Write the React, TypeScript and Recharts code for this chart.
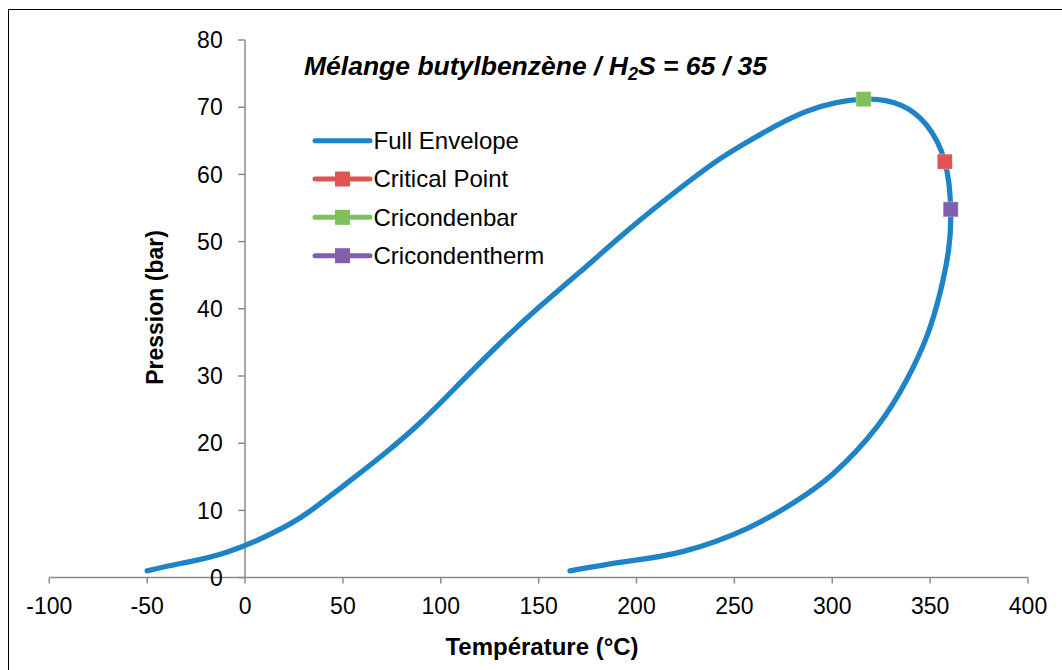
import React from 'react';
import { ComposedChart, Line, Scatter, XAxis, YAxis, ReferenceLine, Legend } from 'recharts';

// ---- data ----
const envelopeT = [-50, -33, -9, 20, 37, 54, 71, 90, 110, 130, 150, 170, 192, 215, 240, 260, 287, 316, 335, 348, 357.5, 360.5, 359.4, 355, 348.3, 338, 323, 300.6, 280, 256.4, 224, 195, 166];
const envelopeP = [1.0, 2.1, 3.8, 7.5, 10.7, 14.5, 18.4, 23.2, 29.0, 34.8, 40.2, 45.2, 50.8, 56.3, 61.8, 65.4, 69.4, 71.2, 70.3, 67.4, 61.9, 54.8, 48.7, 42.3, 35.9, 29.4, 22.5, 15.5, 11.1, 7.3, 3.9, 2.4, 1.0];

const criticalPoint = [{ x: 357.5, y: 61.9 }];
const cricondenbar = [{ x: 316, y: 71.2 }];
const cricondentherm = [{ x: 360.5, y: 54.8 }];

const xTicks = [-100, -50, 0, 50, 100, 150, 200, 250, 300, 350, 400];
const yTicks = [0, 10, 20, 30, 40, 50, 60, 70, 80];

const seriesNames = ['Full Envelope', 'Critical Point', 'Cricondenbar', 'Cricondentherm'];
const seriesColors = ['#1F84C6', '#E05454', '#7EC15B', '#8061A9'];

const envelope = envelopeT.map((t, i) => ({ x: t, y: envelopeP[i] }));

const FONT = '"Liberation Sans", Arial, sans-serif';
const AXIS = '#8a8a8a';

const square = (color: string) => (p: any) => (
  <rect x={p.cx - 7.5} y={p.cy - 7.5} width={15} height={15} fill={color} stroke="#ffffff" strokeOpacity={0.35} strokeWidth={0.8} />
);

const renderLegend = () => (
  <svg width={270} height={160} style={{ display: 'block', overflow: 'visible' }}>
    {seriesNames.map((name, i) => {
      const cy = 20.7 + 38.33 * i;
      return (
        <g key={name}>
          <line x1={5} x2={60} y1={cy} y2={cy} stroke={seriesColors[i]} strokeWidth={5} strokeLinecap="round" />
          {i > 0 && <rect x={25} y={cy - 7.5} width={15} height={15} fill={seriesColors[i]} />}
          <text x={63.5} y={cy + 8.3} fontSize={24} fill="#000" fontFamily={FONT}>{name}</text>
        </g>
      );
    })}
  </svg>
);

export default function App() {
  return (
    <div style={{ position: 'fixed', left: 0, top: 0, width: 1062, height: 670, overflow: 'hidden', background: '#fff', fontFamily: FONT }}>
      <div style={{ position: 'absolute', left: 8, top: 9, width: 1200, height: 800, border: '1.5px solid #000', boxSizing: 'border-box' }} />
      <div style={{ position: 'absolute', left: 0, top: 0 }}>
        <ComposedChart width={1062} height={670} margin={{ top: 40, right: 34, bottom: 32.4, left: 49.3 }}>
          <XAxis
            dataKey="x"
            type="number"
            domain={[-100, 400]}
            ticks={xTicks}
            allowDataOverflow
            height={60}
            stroke={AXIS}
            strokeWidth={1.5}
            tickSize={6}
            tickMargin={14}
            tick={{ fill: '#000', fontSize: 23, fontFamily: FONT }}
            tickLine={{ stroke: AXIS, strokeWidth: 1.5 }}
          />
          <YAxis dataKey="y" type="number" domain={[0, 80]} hide />
          <ReferenceLine x={0} stroke={AXIS} strokeWidth={1.5} />
          {yTicks.map((v) => (
            <ReferenceLine
              key={v}
              segment={[{ x: -3.5, y: v }, { x: 0, y: v }]}
              stroke={AXIS}
              strokeWidth={1.5}
              label={{ value: String(v), position: 'left', offset: 15.5, fill: '#000', fontSize: 23, fontFamily: FONT }}
            />
          ))}
          <Line
            data={envelope}
            dataKey="y"
            type="natural"
            stroke={seriesColors[0]}
            strokeWidth={5.3}
            strokeLinecap="round"
            strokeLinejoin="round"
            dot={false}
            activeDot={false}
            isAnimationActive={false}
            name={seriesNames[0]}
          />
          <Scatter data={criticalPoint} dataKey="y" name={seriesNames[1]} fill={seriesColors[1]} shape={square(seriesColors[1])} isAnimationActive={false} />
          <Scatter data={cricondenbar} dataKey="y" name={seriesNames[2]} fill={seriesColors[2]} shape={square(seriesColors[2])} isAnimationActive={false} />
          <Scatter data={cricondentherm} dataKey="y" name={seriesNames[3]} fill={seriesColors[3]} shape={square(seriesColors[3])} isAnimationActive={false} />
          <Legend
            layout="vertical"
            align="center"
            verticalAlign="middle"
            content={renderLegend}
            wrapperStyle={{ position: 'absolute', left: 310, top: 120, width: 270, height: 160 }}
          />
        </ComposedChart>
      </div>
      <svg width={1062} height={670} style={{ position: 'absolute', left: 0, top: 0, pointerEvents: 'none' }}>
        <text x={304} y={74.5} fontSize={26.5} fontWeight="bold" fontStyle="italic" fontFamily={FONT} fill="#000">
          Mélange butylbenzène / H<tspan dy={5} fontSize={18}>2</tspan><tspan dy={-5}>S = 65 / 35</tspan>
        </text>
        <text x={542} y={655} fontSize={24} fontWeight="bold" fontFamily={FONT} fill="#000" textAnchor="middle">
          Température (°C)
        </text>
        <text transform="translate(163.3 307.5) rotate(-90)" fontSize={23} fontWeight="bold" fontFamily={FONT} fill="#000" textAnchor="middle">
          Pression (bar)
        </text>
      </svg>
    </div>
  );
}
